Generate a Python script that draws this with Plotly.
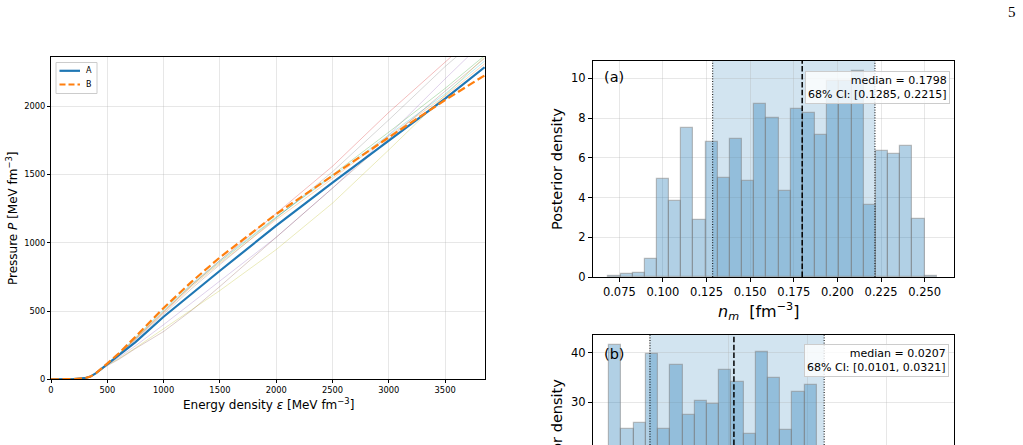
import numpy as np
import plotly.graph_objects as go

# ---------------- data: left panel (EOS) ----------------
eps = [0, 100, 200, 300, 350, 400, 450, 500, 600, 750, 1000, 1250, 1500, 2000, 2500, 3000, 3500, 3850]
P_A = [0, 0.3, 1.5, 8, 20, 45, 78, 113, 172, 272, 458, 630, 795, 1125, 1440, 1748, 2055, 2285]
P_B = [0, 0.3, 1.5, 8, 20, 45, 80, 118, 188, 312, 522, 715, 893, 1210, 1490, 1772, 2045, 2225]

P_red = [0, 0.3, 1.5, 8, 20, 45, 78, 115, 180, 295, 495, 690, 870, 1215, 1560, 1955, 2320, 2580]
P_gray = [0, 0.3, 1.5, 8, 20, 45, 78, 115, 178, 290, 480, 665, 840, 1180, 1520, 1900, 2290, 2540]
P_purple = [0, 0.3, 1.5, 8, 20, 45, 76, 110, 158, 245, 400, 560, 720, 1040, 1400, 1790, 2200, 2480]
P_olive = [0, 0.3, 1.5, 8, 20, 44, 74, 105, 150, 230, 370, 510, 650, 950, 1290, 1680, 2080, 2360]
P_green = [0, 0.3, 1.5, 8, 20, 45, 78, 115, 182, 300, 500, 690, 860, 1185, 1495, 1810, 2130, 2370]
P_cyan = [0, 0.3, 1.5, 8, 20, 45, 78, 115, 185, 305, 510, 700, 870, 1190, 1485, 1790, 2090, 2330]
P_orange = [0, 0.3, 1.5, 8, 20, 45, 78, 115, 180, 295, 490, 680, 850, 1170, 1470, 1780, 2075, 2310]
P_brown = [0, 0.3, 1.5, 8, 20, 44, 73, 100, 145, 225, 350, 505, 680, 1040, 1400, 1760, 2110, 2350]

faint = [
    (P_red, "rgba(214,39,40,0.3)"),
    (P_gray, "rgba(127,127,127,0.3)"),
    (P_purple, "rgba(148,103,189,0.3)"),
    (P_olive, "rgba(188,189,34,0.3)"),
    (P_green, "rgba(44,160,44,0.3)"),
    (P_cyan, "rgba(23,190,207,0.3)"),
    (P_orange, "rgba(255,127,14,0.3)"),
    (P_brown, "rgba(140,86,75,0.3)"),
]

# ---------------- data: panel (a) histogram of n_m ----------------
nm_density = [0.04, 0.13, 0.22, 0.92, 4.92, 3.83, 7.51, 2.86, 6.77, 5.0, 6.92, 4.82,
              8.7, 7.98, 4.32, 8.44, 8.24, 7.14, 9.86, 9.86, 10.35, 3.61, 6.34, 6.17,
              6.6, 2.94, 0.07]
nm_bin_start = 0.0687
nm_bin_width = 0.00697
nm_median, nm_lo, nm_hi = 0.1798, 0.1285, 0.2215

# ---------------- data: panel (b) histogram ----------------
b_density = [41.5, 24.6, 25.8, 39.7, 24.6, 37.5, 27.4, 30.2, 29.7, 36.5, 34.0, 23.7,
             40.2, 34.9, 24.5, 32.0, 33.4]
b_bin_start = 0.00495
b_bin_width = 0.001543
b_median, b_lo, b_hi = 0.0207, 0.0101, 0.0321

FONT = "DejaVu Sans"
W, H = 1023, 445

def px_x(p):
    return p / W

def px_y(p):
    return (H - p) / H

fig = go.Figure()

# left panel
for vals, col in faint:
    fig.add_trace(go.Scatter(x=eps, y=vals, mode="lines", line=dict(color=col, width=1),
                             showlegend=False, hoverinfo="skip", xaxis="x", yaxis="y"))
fig.add_trace(go.Scatter(x=eps, y=P_A, mode="lines", name="A", showlegend=False,
                         line=dict(color="#1f77b4", width=2.2), xaxis="x", yaxis="y"))
fig.add_trace(go.Scatter(x=eps, y=P_B, mode="lines", name="B", showlegend=False,
                         line=dict(color="#ff7f0e", width=2.2, dash="8px,3.5px"), xaxis="x", yaxis="y"))

# histograms
def add_hist(heights, start, width, xa, ya):
    n = len(heights)
    centers = start + width * (np.arange(n) + 0.5)
    fig.add_trace(go.Bar(x=centers, y=heights, width=[width] * n,
                         marker=dict(color="rgba(31,119,180,0.35)",
                                     line=dict(color="rgba(128,128,128,0.5)", width=1.2)),
                         showlegend=False, xaxis=xa, yaxis=ya))

add_hist(nm_density, nm_bin_start, nm_bin_width, "x2", "y2")
add_hist(b_density, b_bin_start, b_bin_width, "x3", "y3")

shapes = []
for xa, lo, hi, med, y0p, y1p in [("x2", nm_lo, nm_hi, nm_median, px_y(277), px_y(61)),
                                  ("x3", b_lo, b_hi, b_median, 0, px_y(335))]:
    shapes.append(dict(type="rect", xref=xa, yref="paper", x0=lo, x1=hi, y0=y0p, y1=y1p,
                       fillcolor="rgba(31,119,180,0.2)", line=dict(width=0), layer="below"))
    for v in (lo, hi):
        shapes.append(dict(type="line", xref=xa, yref="paper", x0=v, x1=v, y0=y0p, y1=y1p,
                           line=dict(color="black", width=1, dash="1px,1.6px")))
    shapes.append(dict(type="line", xref=xa, yref="paper", x0=med, x1=med, y0=y0p, y1=y1p,
                       line=dict(color="black", width=1.5, dash="5.5px,2.4px")))

# legend of the left panel (box + samples)
shapes.append(dict(type="rect", xref="paper", yref="paper", x0=px_x(56), x1=px_x(97), y0=px_y(93.5), y1=px_y(62.5),
                   fillcolor="rgba(255,255,255,0.8)", line=dict(color="rgba(204,204,204,1)", width=1)))
shapes.append(dict(type="line", xref="paper", yref="paper", x0=px_x(59.5), x1=px_x(80), y0=px_y(70.8), y1=px_y(70.8),
                   line=dict(color="#1f77b4", width=2.2)))
shapes.append(dict(type="line", xref="paper", yref="paper", x0=px_x(59.5), x1=px_x(80), y0=px_y(84.5), y1=px_y(84.5),
                   line=dict(color="#ff7f0e", width=2.2, dash="6px,3px")))

ax_common = dict(showline=True, mirror=True, linecolor="black", linewidth=1,
                 ticks="outside", tickcolor="black", showgrid=True,
                 gridcolor="rgba(176,176,176,0.3)", gridwidth=1, zeroline=False)

fig.update_layout(
    width=W, height=H, margin=dict(l=0, r=0, t=0, b=0, autoexpand=False),
    paper_bgcolor="white", plot_bgcolor="white",
    font=dict(family=FONT, color="black"),
    bargap=0, barmode="overlay", showlegend=False,
    shapes=shapes,
    xaxis=dict(domain=[px_x(51), px_x(485)], range=[0, 3854], tickvals=[0, 500, 1000, 1500, 2000, 2500, 3000, 3500],
               ticklen=3, tickfont=dict(size=8.3), anchor="y", **ax_common),
    yaxis=dict(domain=[px_y(379.3), px_y(57)], range=[0, 2360], tickvals=[0, 500, 1000, 1500, 2000],
               ticklen=3, tickfont=dict(size=8.3), anchor="x", **ax_common),
    xaxis2=dict(domain=[px_x(593), px_x(954)], range=[0.0599, 0.2668],
                tickvals=[0.075, 0.1, 0.125, 0.15, 0.175, 0.2, 0.225, 0.25], tickformat=".3f",
                ticklen=4, tickfont=dict(size=11.5), anchor="y2", **ax_common),
    yaxis2=dict(domain=[px_y(277), px_y(61)], range=[0, 10.87], tickvals=[0, 2, 4, 6, 8, 10],
                ticklen=4, tickfont=dict(size=11.5), anchor="x2", **ax_common),
    xaxis3=dict(domain=[px_x(593), px_x(954)], range=[0.0029, 0.0485],
                tickvals=[0.01, 0.02, 0.03, 0.04], showticklabels=False,
                ticklen=4, anchor="y3", **ax_common),
    yaxis3=dict(domain=[0, px_y(335)], range=[21.38, 43.57], tickvals=[20, 30, 40],
                ticklen=4, tickfont=dict(size=11.5), anchor="x3", **ax_common),
)

ann = []
def text(x, y, s, size, **kw):
    d = dict(x=px_x(x), y=px_y(y), xref="paper", yref="paper", text=s, showarrow=False,
             xanchor="center", yanchor="middle",
             font=dict(size=size, family=kw.pop("family", FONT), color="black"))
    d.update(kw)
    ann.append(d)

text(84, 70.8, "A", 8, xanchor="left")
text(84, 84.5, "B", 8, xanchor="left")
text(268, 404, "Energy density <i>ε</i> [MeV fm<sup>−3</sup>]", 12)
text(12, 218, "Pressure <i>P</i> [MeV fm<sup>−3</sup>]", 12, textangle=-90)
text(557, 169, "Posterior density", 14.5, textangle=-90)
text(758, 311, "<i>n</i><sub><i>m</i></sub>  [fm<sup>−3</sup>]", 16)
text(557, 440, "Posterior density", 14.5, textangle=-90)
text(614, 77, "(a)", 14.5)
text(614, 354, "(b)", 14.5)
text(1012, 12, "5", 15, family="Liberation Serif")
text(950, 70.7, "median = 0.1798<br>68% CI: [0.1285, 0.2215]", 11, xanchor="right", yanchor="top",
     align="right", bgcolor="rgba(255,255,255,0.8)", bordercolor="rgba(204,204,204,1)", borderwidth=1, borderpad=2)
text(949, 344, "median = 0.0207<br>68% CI: [0.0101, 0.0321]", 11, xanchor="right", yanchor="top",
     align="right", bgcolor="rgba(255,255,255,0.8)", bordercolor="rgba(204,204,204,1)", borderwidth=1, borderpad=2)
fig.update_layout(annotations=ann)

fig.write_html("out.html")
